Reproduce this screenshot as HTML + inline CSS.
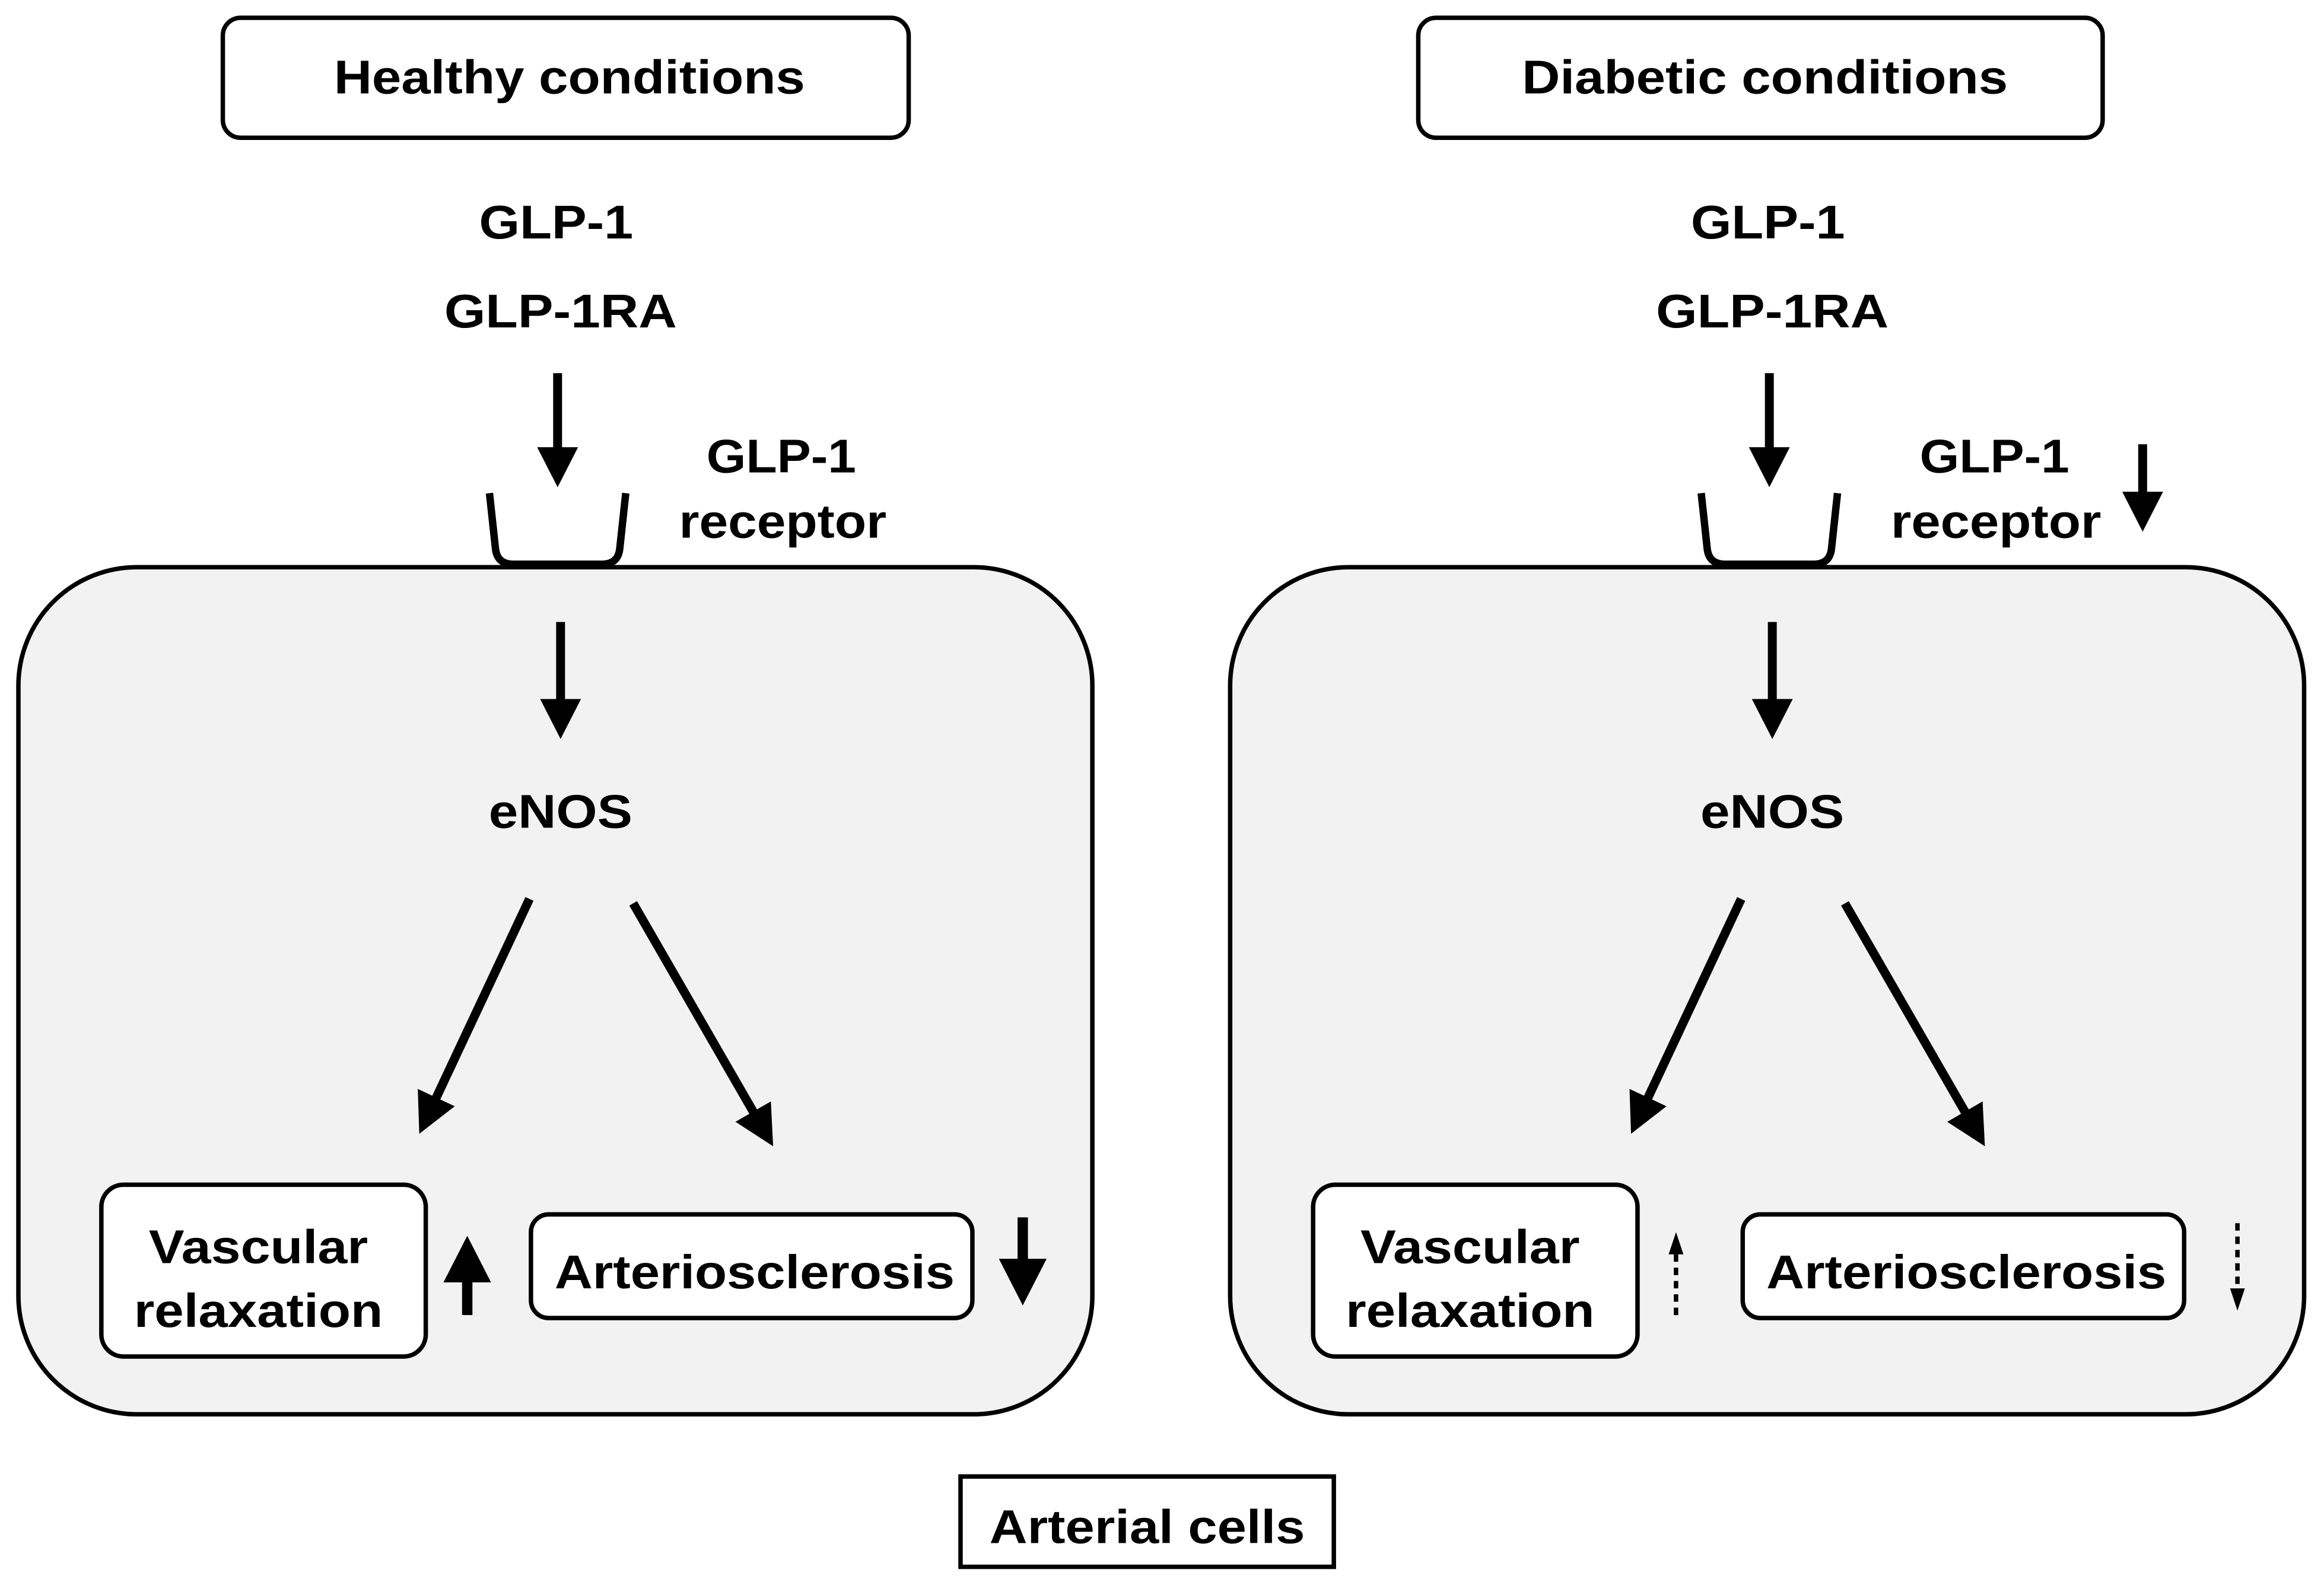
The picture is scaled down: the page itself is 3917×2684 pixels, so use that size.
<!DOCTYPE html>
<html><head><style>html,body{margin:0;padding:0;background:#fff}svg{display:block}</style></head>
<body>
<svg width="3917" height="2684" viewBox="0 0 1568 1075" xmlns="http://www.w3.org/2000/svg" font-family="Liberation Sans, Arial, sans-serif" font-weight="bold" text-anchor="middle" font-size="32">
<defs>
<marker id="h" markerWidth="4.5" markerHeight="5" refX="2" refY="2.5" orient="auto" markerUnits="strokeWidth"><path d="M0,0.2 L4.5,2.5 L0,4.8 z" fill="#000"/></marker>
</defs>
<rect width="1568" height="1075" fill="#fff"/>
<rect x="150" y="12" width="463" height="81" rx="12" fill="#fff" stroke="#000" stroke-width="3"/>
<text x="384" y="63" textLength="318" lengthAdjust="spacingAndGlyphs">Healthy conditions</text>
<rect x="957" y="12" width="462" height="81" rx="12" fill="#fff" stroke="#000" stroke-width="3"/>
<text x="1191" y="63" textLength="328" lengthAdjust="spacingAndGlyphs">Diabetic conditions</text>

<g id="L">
<rect x="12" y="383" width="725" height="572" rx="80" fill="#f2f2f2" stroke="#000" stroke-width="3"/>
<text x="375" y="161" textLength="104" lengthAdjust="spacingAndGlyphs">GLP-1</text>
<text x="378" y="221" textLength="157" lengthAdjust="spacingAndGlyphs">GLP-1RA</text>
<line x1="376" y1="252" x2="376" y2="314" stroke="#000" stroke-width="6" marker-end="url(#h)"/>
<path d="M330,333 L334,370 Q335,381 346,381 L406,381 Q417,381 418,370 L422,333" fill="none" stroke="#000" stroke-width="5"/>
<line x1="378" y1="420" x2="378" y2="484" stroke="#000" stroke-width="6" marker-end="url(#h)"/>
<text x="378" y="559" textLength="97" lengthAdjust="spacingAndGlyphs">eNOS</text>
<line x1="357" y1="607" x2="289" y2="752" stroke="#000" stroke-width="6" marker-end="url(#h)"/>
<line x1="427" y1="610" x2="514" y2="761" stroke="#000" stroke-width="6" marker-end="url(#h)"/>
<rect x="68" y="800" width="219" height="116" rx="15" fill="#fff" stroke="#000" stroke-width="3"/>
<text x="174" y="853" textLength="148" lengthAdjust="spacingAndGlyphs">Vascular</text>
<text x="174" y="896" textLength="168" lengthAdjust="spacingAndGlyphs">relaxation</text>
<rect x="358" y="820" width="298" height="70" rx="12" fill="#fff" stroke="#000" stroke-width="3"/>
<text x="509" y="870" textLength="270" lengthAdjust="spacingAndGlyphs">Arteriosclerosis</text>
</g>
<use href="#L" x="818"/>
<text x="527" y="319" textLength="101" lengthAdjust="spacingAndGlyphs">GLP-1</text>
<text x="528" y="363" textLength="140" lengthAdjust="spacingAndGlyphs">receptor</text>
<text x="1346" y="319" textLength="101" lengthAdjust="spacingAndGlyphs">GLP-1</text>
<text x="1347" y="363" textLength="142" lengthAdjust="spacingAndGlyphs">receptor</text>
<line x1="315" y1="888" x2="315" y2="852" stroke="#000" stroke-width="7" marker-end="url(#h)"/>
<line x1="690" y1="822" x2="690" y2="864" stroke="#000" stroke-width="7" marker-end="url(#h)"/>
<line x1="1446" y1="300" x2="1446" y2="344" stroke="#000" stroke-width="6" marker-end="url(#h)"/>
<line x1="1131" y1="888" x2="1131" y2="845" stroke="#000" stroke-width="3" stroke-dasharray="5,4"/>
<path d="M1126,847 L1131,832 L1136,847 z" fill="#000"/>
<line x1="1510" y1="826" x2="1510" y2="870" stroke="#000" stroke-width="3" stroke-dasharray="5,4"/>
<path d="M1505,870 L1510,885 L1515,870 z" fill="#000"/>
<rect x="648" y="997" width="252" height="61" fill="#fff" stroke="#000" stroke-width="3"/>
<text x="774" y="1042" textLength="213" lengthAdjust="spacingAndGlyphs">Arterial cells</text>
</svg>
</body></html>
